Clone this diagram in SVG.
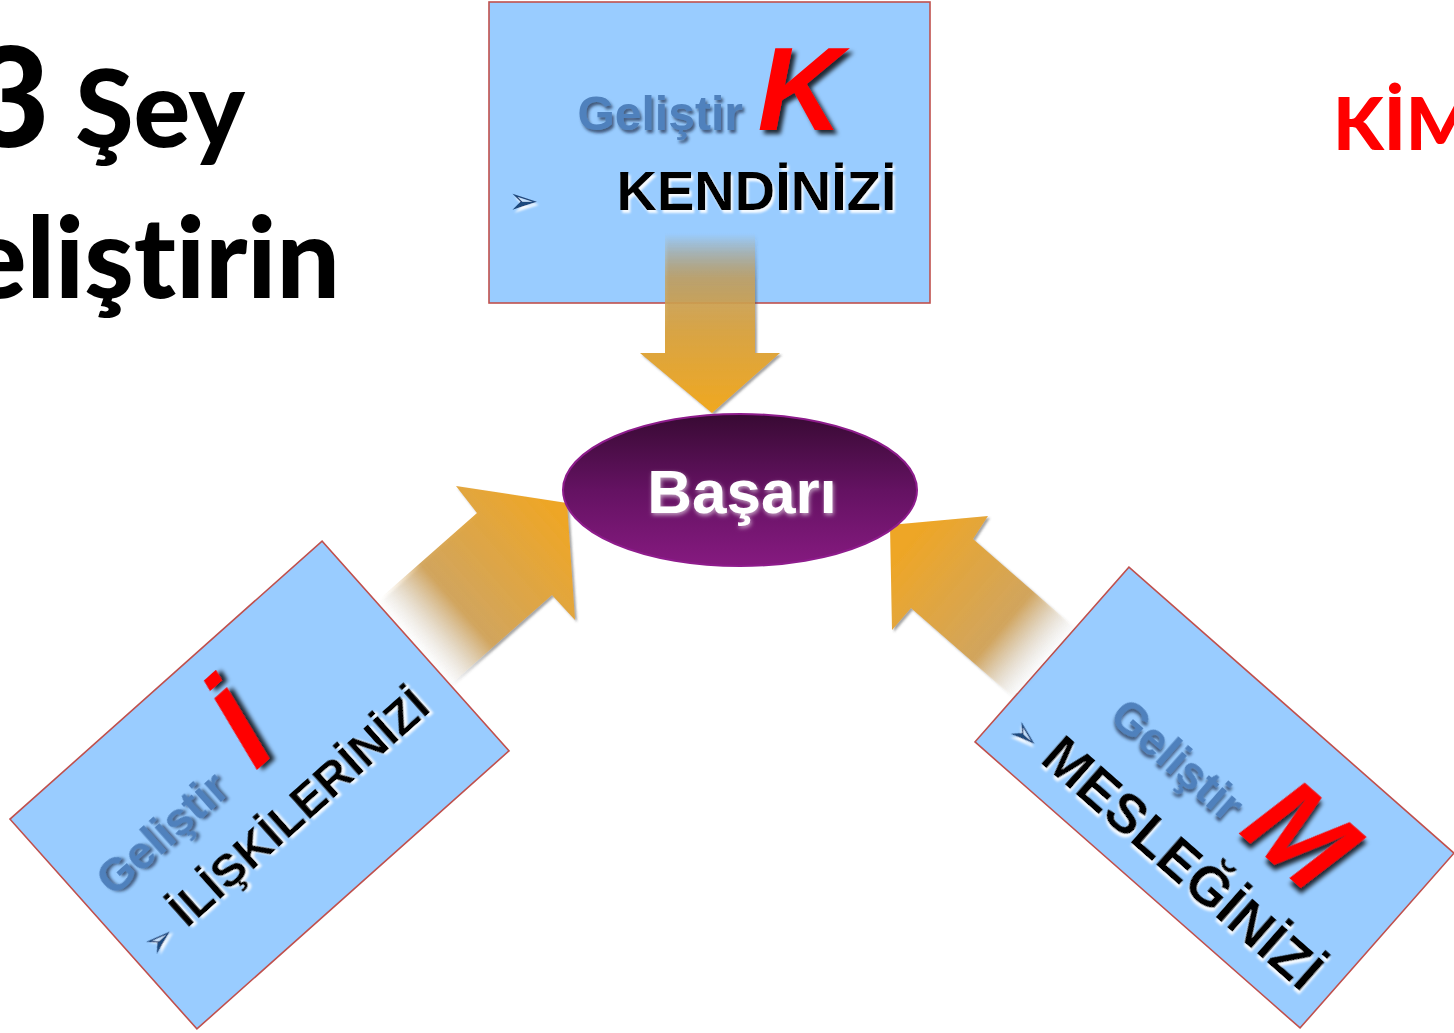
<svg xmlns="http://www.w3.org/2000/svg" width="1454" height="1033" viewBox="0 0 1454 1033">
<style>
.box{fill:#99CCFF;stroke:#C0504D;stroke-width:1.6}
.gel{font-family:"Liberation Sans",Arial,sans-serif;font-weight:bold;fill:#4F81BD;filter:url(#sh-dark)}
.big{font-family:"Liberation Sans",Arial,sans-serif;font-weight:bold;font-style:italic;fill:#FF0000;filter:url(#sh-big)}
.word{font-family:"Liberation Sans",Arial,sans-serif;font-weight:bold;fill:#000;filter:url(#sh-white)}
.bul{font-family:"DejaVu Sans",sans-serif;fill:#1F497D;filter:url(#sh-white)}
.title{font-family:Lato,"Open Sans",sans-serif;font-weight:900;fill:#000;font-variant-ligatures:none;font-feature-settings:"liga" 0,"dlig" 0}
</style>
<defs>
<filter id="sh-dark" x="-20%" y="-30%" width="140%" height="170%"><feDropShadow dx="2" dy="3" stdDeviation="1.5" flood-color="#1A2A45" flood-opacity="0.7"/></filter>
<filter id="sh-big" x="-20%" y="-20%" width="150%" height="150%"><feDropShadow dx="4" dy="4" stdDeviation="2" flood-color="#000" flood-opacity="0.8"/></filter>
<filter id="sh-white" x="-10%" y="-30%" width="120%" height="170%"><feDropShadow dx="2" dy="3" stdDeviation="1.2" flood-color="#FFF" flood-opacity="0.9"/></filter>
<filter id="sh-soft" x="-10%" y="-30%" width="120%" height="170%"><feDropShadow dx="1" dy="2" stdDeviation="2" flood-color="#FFF" flood-opacity="0.6"/></filter>
<filter id="sh-arrow" x="-20%" y="-20%" width="150%" height="150%"><feDropShadow dx="2" dy="2" stdDeviation="1" flood-color="#444" flood-opacity="0.5"/></filter>
<linearGradient id="g-ell" x1="0" y1="0" x2="0" y2="1">
<stop offset="0" stop-color="#380A33"/><stop offset="0.5" stop-color="#641262"/><stop offset="1" stop-color="#861A80"/>
</linearGradient>
<linearGradient id="g-top" gradientUnits="userSpaceOnUse" x1="0" y1="233" x2="0" y2="413">
<stop offset="0" stop-color="#C9A055" stop-opacity="0"/><stop offset="0.25" stop-color="#C9A055" stop-opacity="0.75"/><stop offset="0.55" stop-color="#D8A445" stop-opacity="1"/><stop offset="1" stop-color="#F0A820"/>
</linearGradient>
<linearGradient id="g-left" gradientUnits="userSpaceOnUse" x1="413" y1="644" x2="560" y2="515">
<stop offset="0" stop-color="#FFFFFF" stop-opacity="0"/><stop offset="0.3" stop-color="#D2A45A" stop-opacity="0.95"/><stop offset="1" stop-color="#EEA626"/>
</linearGradient>
<linearGradient id="g-right" gradientUnits="userSpaceOnUse" x1="1044" y1="663" x2="905" y2="545">
<stop offset="0" stop-color="#FFFFFF" stop-opacity="0"/><stop offset="0.3" stop-color="#D2A45A" stop-opacity="0.95"/><stop offset="1" stop-color="#EEA626"/>
</linearGradient>
</defs>

<g id="title">
<text class="title" x="245" y="147" text-anchor="end"><tspan font-size="140">3</tspan><tspan font-size="106"> Şey</tspan></text>
<text class="title" x="340" y="298" text-anchor="end" font-size="112">Geliştirin</text>
<text class="title" x="1333" y="150" font-size="73" style="fill:#FF0000">KİM</text>
</g>

<g id="node-kendinizi" transform="translate(709.5,152.5)">
<rect class="box" x="-220.5" y="-150.5" width="441" height="301"/>
<text class="gel" x="-132" y="-22.5" font-size="48">Geliştir</text>
<text class="big" x="48" y="-22.5" font-size="118">K</text>
<text class="bul" x="-201" y="60" font-size="36">➢</text>
<text class="word" x="-93" y="57.5" font-size="56">KENDİNİZİ</text>
</g>

<g id="node-iliskilerinizi" transform="translate(259.5,785) rotate(-41.7)">
<rect class="box" x="-209" y="-140.5" width="418" height="281"/>
<text class="gel" x="-184" y="-13" font-size="46">Geliştir</text>
<text class="big" x="6" y="-13" font-size="118">İ</text>
<text class="bul" x="-193" y="61" font-size="36">➢</text>
<text class="word" x="-150" y="59" font-size="47">İLİŞKİLERİNİZİ</text>
</g>

<g id="node-mesleginizi" transform="translate(1214.5,797.5) rotate(41.35)">
<rect class="box" x="-216.5" y="-116.5" width="433" height="233"/>
<text class="gel" x="-132" y="12" font-size="46">Geliştir</text>
<text class="big" x="40" y="11" font-size="118">M</text>
<text class="bul" x="-199" y="90" font-size="36">➢</text>
<text class="word" x="-156" y="89" font-size="55">MESLEĞİNİZİ</text>
</g>

<g id="connectors" filter="url(#sh-arrow)">
<polygon id="arrow-top" fill="url(#g-top)" points="665,233 755,233 755,353 780,353 712,413 640,353 665,353"/>
<polygon id="arrow-left" fill="url(#g-left)" points="376,602 477,513 456,486 567,503 575,620 552,595 450,685"/>
<polygon id="arrow-right" fill="url(#g-right)" points="1075,628 973,539 988,516 890,525 892,630 911,608 1014,698"/>
</g>

<g id="node-basari">
<ellipse cx="740" cy="490" rx="177" ry="76" fill="url(#g-ell)" stroke="#8E1C8C" stroke-width="2"/>
<text x="742" y="513" text-anchor="middle" font-family="'Liberation Sans',Arial,sans-serif" font-weight="bold" font-size="62" fill="#FFFFFF" filter="url(#sh-soft)">Başarı</text>
</g>
</svg>
